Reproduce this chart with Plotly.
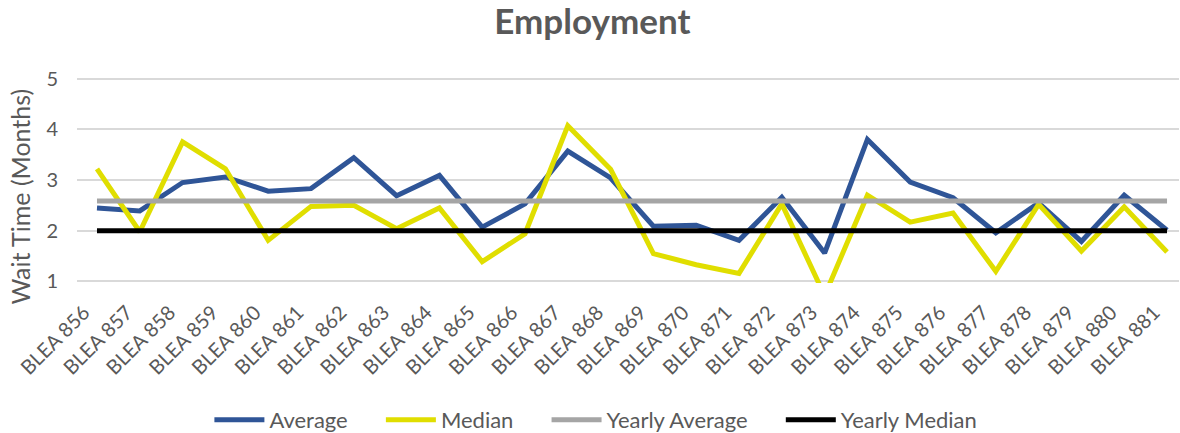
import plotly.graph_objects as go

categories = [f"BLEA {n}" for n in range(856, 882)]

average = [2.45, 2.39, 2.95, 3.06, 2.78, 2.83, 3.44, 2.69, 3.09, 2.07, 2.53, 3.57,
           3.04, 2.09, 2.11, 1.81, 2.66, 1.56, 3.80, 2.96, 2.65, 1.96, 2.55, 1.79,
           2.70, 2.01]
median = [3.22, 1.98, 3.75, 3.22, 1.81, 2.48, 2.50, 2.04, 2.45, 1.39, 1.94, 4.07,
          3.21, 1.55, 1.33, 1.16, 2.53, 0.72, 2.70, 2.17, 2.35, 1.20, 2.52, 1.60,
          2.47, 1.58]
yearly_average = 2.585
yearly_median = 2.0
series_names = ["Average", "Median", "Yearly Average", "Yearly Median"]

font_family = "Lato, 'Open Sans', sans-serif"
text_color = "#595959"
pad = "&nbsp;" * 5

fig = go.Figure()
fig.add_trace(go.Scatter(x=categories, y=average, mode="lines", name=series_names[0] + pad,
                         line=dict(color="#2F5597", width=5)))
fig.add_trace(go.Scatter(x=categories, y=median, mode="lines", name=series_names[1] + pad,
                         line=dict(color="#E0DE00", width=5)))
fig.add_trace(go.Scatter(x=categories, y=[yearly_average] * len(categories), mode="lines",
                         name=series_names[2] + pad, line=dict(color="#A5A5A5", width=5)))
fig.add_trace(go.Scatter(x=categories, y=[yearly_median] * len(categories), mode="lines",
                         name=series_names[3], line=dict(color="#000000", width=5)))

fig.update_layout(
    width=1180, height=433,
    paper_bgcolor="white", plot_bgcolor="white",
    margin=dict(l=77, r=1, t=77, b=150),
    font=dict(family=font_family, color=text_color, size=18),
    title=dict(text="<b>Employment</b>", x=0.502, xanchor="center", y=0.95, yanchor="middle",
               font=dict(size=35, color=text_color, family=font_family)),
    showlegend=True,
    legend=dict(orientation="h", xref="container", yref="container",
                x=0.505, xanchor="center", y=0.03, yanchor="middle",
                font=dict(size=22, color=text_color), itemwidth=50,
                tracegroupgap=0),
    annotations=[dict(text="Wait Time (Months)", textangle=-90, xref="paper", yref="paper",
                      x=0, xanchor="center", xshift=-57, y=0.42, yanchor="middle",
                      showarrow=False, font=dict(size=25, color=text_color))],
)
fig.update_xaxes(type="category", range=[-0.467, 25.28], showgrid=False, showline=False,
                 ticks="", tickangle=-45, tickfont=dict(size=20, color=text_color),
                 zeroline=False, automargin=False, ticklabelshift=-13, ticklabelstandoff=13)
fig.update_yaxes(range=[0.97, 5.03], tickvals=[1, 2, 3, 4, 5], showgrid=True,
                 gridcolor="#D9D9D9", gridwidth=1.5,
                 showline=False, zeroline=False, ticks="", automargin=False,
                 tickfont=dict(size=20, color=text_color), ticklabelstandoff=18)

fig.write_html("out.html", config={"displayModeBar": False},
               post_script="document.body.style.margin='0';")
